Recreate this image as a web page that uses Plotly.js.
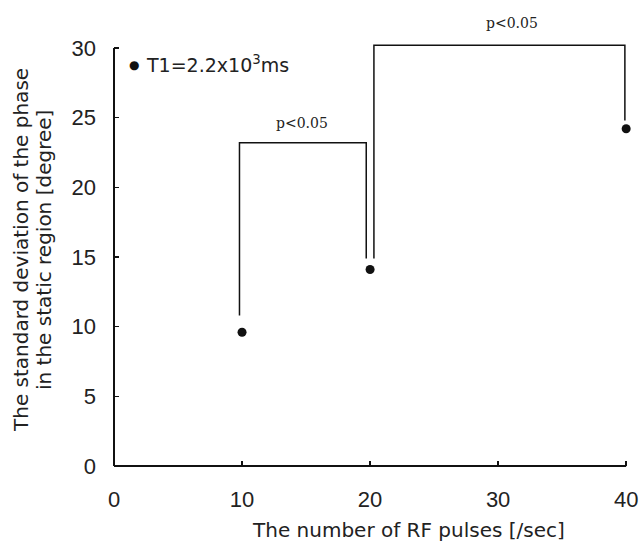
<!DOCTYPE html>
<html>
<head>
<meta charset="utf-8">
<script src="https://cdn.plot.ly/plotly-3.0.1.min.js"></script>
<style>html,body{margin:0;padding:0;background:#fff;}#chart{width:639px;height:546px;}</style>
</head>
<body>
<div id="chart"></div>
<script>
// Data
const pulses = [10, 20, 40];
const sdPhase = [9.6, 14.1, 24.2];
const xTicks = [0, 10, 20, 30, 40];
const yTicks = [0, 5, 10, 15, 20, 25, 30];
// Significance brackets
const brX0 = [9.8, 20.3];
const brX1 = [19.7, 39.9];
const brTop = [23.2, 30.2];
const brY0 = [10.8, 14.9];
const brY1 = [14.9, 24.8];
const brLabel = ['p<0.05', 'p<0.05'];
const brLabelX = [14.7, 31.1];
const brLabelY = [24.6, 31.8];
const legendText = 'T1=2.2x10<sup>3</sup>ms';
const xTitle = 'The number of RF pulses [/sec]';
const yTitleLines = ['The standard deviation of the phase', 'in the static region [degree]'];

const xMax = 40.3, yMax = 30.5;
const plotH = 546 - 41 - 80, plotW = 639 - 114 - 9;
const px2paperX = p => (p - 114) / plotW;
const px2paperY = p => (466 - p) / plotH;

const traces = [{
  x: pulses, y: sdPhase, type: 'scatter', mode: 'markers',
  marker: {color: '#111', size: 9}, cliponaxis: false, showlegend: false, hoverinfo: 'x+y'
}];
for (let i = 0; i < brX0.length; i++) {
  traces.push({
    x: [brX0[i], brX0[i], brX1[i], brX1[i]],
    y: [brY0[i], brTop[i], brTop[i], brY1[i]],
    type: 'scatter', mode: 'lines', line: {color: '#111', width: 1.5},
    showlegend: false, hoverinfo: 'skip'
  });
}

const sans = 'DejaVu Sans, Verdana, sans-serif';
const annotations = brLabel.map((t, i) => ({
  x: brLabelX[i], y: brLabelY[i] / yMax, xref: 'x', yref: 'paper', text: t, showarrow: false,
  xanchor: 'center', yanchor: 'middle',
  font: {family: 'DejaVu Serif, serif', size: 14, color: '#222'}
}));
annotations.push({
  x: px2paperX(134), y: px2paperY(65), xref: 'paper', yref: 'paper', text: '●', showarrow: false,
  xanchor: 'center', yanchor: 'middle',
  font: {family: sans, size: 12, color: '#111'}
});
annotations.push({
  x: px2paperX(144), y: px2paperY(64), xref: 'paper', yref: 'paper', xanchor: 'left', yanchor: 'middle',
  text: legendText, showarrow: false,
  font: {family: sans, size: 19, color: '#222'}
});
annotations.push({
  x: px2paperX(408), y: px2paperY(530), xref: 'paper', yref: 'paper', text: xTitle, showarrow: false,
  xanchor: 'center', yanchor: 'middle',
  font: {family: sans, size: 20, color: '#222'}
});
[21, 44].forEach((xp, i) => annotations.push({
  x: px2paperX(xp), y: px2paperY(250), xref: 'paper', yref: 'paper', text: yTitleLines[i], showarrow: false,
  xanchor: 'center', yanchor: 'middle',
  textangle: -90, font: {family: sans, size: 20, color: '#222'}
}));

const layout = {
  width: 639, height: 546,
  margin: {l: 114, r: 9, t: 41, b: 80},
  paper_bgcolor: '#fff', plot_bgcolor: '#fff',
  font: {family: 'Liberation Sans, Arial, sans-serif', size: 22, color: '#222'},
  xaxis: {
    range: [0, xMax], tickvals: xTicks, ticktext: xTicks.map(String),
    ticks: 'inside', ticklen: 5, tickcolor: '#111', tickwidth: 1.5,
    showgrid: false, zeroline: false, showline: false,
    ticklabelstandoff: 18
  },
  yaxis: {
    range: [0, yMax], tickvals: yTicks, ticktext: yTicks.map(String),
    ticks: 'inside', ticklen: 5, tickcolor: '#111', tickwidth: 1.5,
    showgrid: false, zeroline: false, showline: false,
    ticklabelstandoff: 17
  },
  shapes: [
    {type: 'line', xref: 'paper', yref: 'paper', x0: 0, x1: 0, y0: 0, y1: 30 / yMax, line: {color: '#111', width: 2}},
    {type: 'line', xref: 'paper', yref: 'paper', x0: 0, x1: 40 / xMax, y0: 0, y1: 0, line: {color: '#111', width: 2}}
  ],
  annotations: annotations,
  showlegend: false
};

Plotly.newPlot('chart', traces, layout, {displayModeBar: false, staticPlot: true});
</script>
</body>
</html>
